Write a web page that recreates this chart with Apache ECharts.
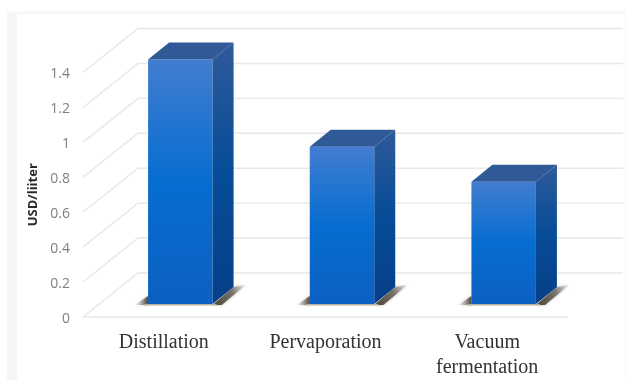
<!DOCTYPE html>
<html>
<head>
<meta charset="utf-8">
<style>html,body{margin:0;padding:0;background:#fff}#chart{width:631px;height:380px}</style>
<script src="https://cdn.jsdelivr.net/npm/echarts@6/dist/echarts.min.js"></script>
</head>
<body>
<div id="chart"></div>
<script>
// Cost per liter by separation process
const categories = ['Distillation', 'Pervaporation', 'Vacuum\nfermentation'];
const costs = [1.4, 0.9, 0.7];
const yTicks = [0, 0.2, 0.4, 0.6, 0.8, 1, 1.2, 1.4];

// Oblique projection used for the pseudo-3D look (pixels)
const WALL_DX = 55, WALL_DY = -44;   // floor front edge -> back wall
const BAR_DX = 16.5, BAR_DY = -13;   // floor front edge -> bar front face
const DEPTH_DX = 21, DEPTH_DY = -17; // bar front face -> bar back face
const BAR_W = 64.5;

const grad = (stops) => new echarts.graphic.LinearGradient(0, 0, 0, 1,
  stops.map(([offset, color]) => ({ offset, color })));

function poly(points, fill, extra) {
  return { type: 'polygon', shape: { points }, style: Object.assign({ fill }, extra) };
}

function renderWall(params, api) {
  const p = api.coord([0, api.value(0)]);
  const band = api.size([1, 0])[0];
  const x0 = p[0] - band / 2;
  const y = p[1];
  const xEnd = x0 + band * categories.length;
  const stroke = { stroke: '#e8e8e8', lineWidth: 1.4, fill: null };
  const kids = [
    { type: 'polyline', shape: { points: [[x0, y], [x0 + WALL_DX, y + WALL_DY], [xEnd + WALL_DX, y + WALL_DY]] }, style: stroke }
  ];
  if (api.value(0) === 0) {
    kids.push({ type: 'line', shape: { x1: x0, y1: y, x2: xEnd, y2: y }, style: stroke });
  }
  return { type: 'group', children: kids };
}

function renderBar(params, api) {
  const top = api.coord([api.value(0), api.value(1)]);
  const base = api.coord([api.value(0), 0]);
  const xl = top[0] - BAR_W / 2 + BAR_DX;
  const xr = xl + BAR_W;
  const yt = top[1] + BAR_DY;
  const yb = base[1] + BAR_DY;
  const dx = DEPTH_DX, dy = DEPTH_DY;
  const shadow = new echarts.graphic.LinearGradient(0, 1, 1, 0, [
    { offset: 0, color: '#4b4436' },
    { offset: 0.6, color: '#77726a' },
    { offset: 1, color: 'rgba(190,188,184,0.25)' }
  ]);
  const shadowLeft = new echarts.graphic.LinearGradient(1, 0, 0, 0, [
    { offset: 0, color: '#4b4436' },
    { offset: 1, color: 'rgba(190,188,184,0.15)' }
  ]);
  const soft = { shadowBlur: 3, shadowColor: 'rgba(120,115,105,0.6)' };
  return {
    type: 'group',
    children: [
      poly([[xr, yb + 1], [xr + dx, yb + dy], [xr + dx + 12, yb + dy - 2], [xr + 9, yb + 1]], shadow, soft),
      poly([[xl - 13, yb + 1], [xl, yb - 8], [xl, yb + 1]], shadowLeft, soft),
      poly([[xl - 4, yb], [xr + 4, yb], [xr + 4, yb + 1.5], [xl - 4, yb + 1.5]], '#b9b1a4'),
      poly([[xl, yb], [xr, yb], [xr, yt], [xl, yt]], grad([
        [0, '#427dd0'], [0.5, '#066dd0'], [1, '#0c60c2']
      ])),
      poly([[xr, yb], [xr + dx, yb + dy], [xr + dx, yt + dy], [xr, yt]], grad([
        [0, '#2f5a9a'], [0.5, '#064c98'], [1, '#073f88']
      ])),
      poly([[xl, yt], [xr, yt], [xr + dx, yt + dy], [xl + dx, yt + dy]], '#2f5997')
    ]
  };
}

const chart = echarts.init(document.getElementById('chart'), null, { renderer: 'canvas' });
chart.setOption({
  animation: false,
  backgroundColor: '#ffffff',
  graphic: [
    { type: 'rect', z: -10, shape: { x: 7, y: 11, width: 10, height: 369 }, style: { fill: '#f5f5f5' } },
    { type: 'rect', z: -10, shape: { x: 7, y: 11, width: 619, height: 3 }, style: { fill: '#f8f8f8' } },
    { type: 'rect', z: -10, shape: { x: 625, y: 11, width: 1, height: 369 }, style: { fill: '#f6f6f6' } }
  ],
  grid: { left: 83, right: 63, top: 72.5, bottom: 61.5 },
  xAxis: {
    type: 'category',
    data: categories,
    axisLine: { show: false },
    axisTick: { show: false },
    axisLabel: {
      color: '#333333', fontFamily: 'Liberation Serif', fontSize: 20,
      lineHeight: 25, margin: 13, interval: 0
    }
  },
  yAxis: {
    type: 'value',
    min: 0,
    max: 1.4,
    interval: 0.2,
    name: 'USD/liiter',
    nameLocation: 'middle',
    nameGap: 34,
    nameTextStyle: { color: '#2a2a2a', fontFamily: 'Open Sans', fontSize: 13, fontWeight: 'bold' },
    axisLine: { show: false },
    axisTick: { show: false },
    splitLine: { show: false },
    axisLabel: {
      margin: 13,
      formatter: (v) => '{t|' + String(+v.toFixed(1)) + '}',
      rich: {
        t: { color: '#7f7f7f', fontFamily: 'Open Sans', fontSize: 14, padding: [4, 0, 0, 0] }
      }
    }
  },
  series: [
    {
      type: 'custom',
      name: 'wall',
      renderItem: renderWall,
      silent: true,
      clip: false,
      z: 1,
      encode: { y: 0 },
      data: yTicks.map((v) => [v])
    },
    {
      type: 'custom',
      name: 'USD/liter',
      renderItem: renderBar,
      clip: false,
      z: 2,
      encode: { x: 0, y: 1 },
      data: costs.map((v, i) => [i, v])
    }
  ]
});
</script>
</body>
</html>
